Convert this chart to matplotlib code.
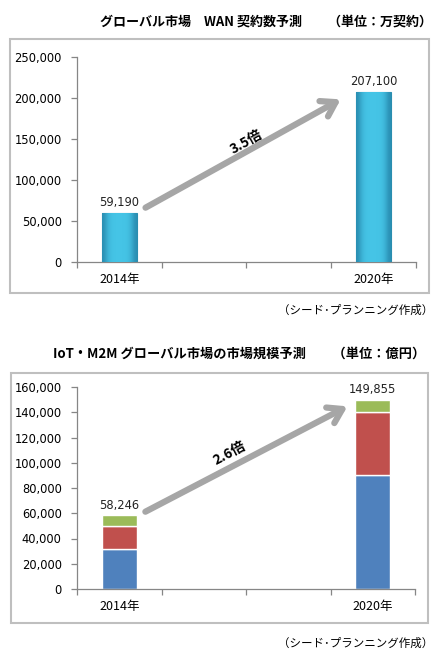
import matplotlib
matplotlib.use("Agg")
import matplotlib.pyplot as plt
import numpy as np
from matplotlib.patches import Rectangle
from matplotlib.colors import LinearSegmentedColormap

plt.rcParams['font.family'] = ['DejaVu Sans', 'Noto Sans CJK JP']

# ---- data ----
categories = ["2014年", "", "", "2020年"]
wan_values = [59190, None, None, 207100]
wan_labels = ["59,190", "207,100"]
wan_ticks = [0, 50000, 100000, 150000, 200000, 250000]

iot_blue = [32000, 90000]
iot_red = [18000, 50000]
iot_green = [8246, 9855]
iot_totals = ["58,246", "149,855"]
iot_ticks = [0, 20000, 40000, 60000, 80000, 100000, 120000, 140000, 160000]

title1 = "グローバル市場　WAN 契約数予測　　（単位：万契約）"
title2 = "IoT・M2M グローバル市場の市場規模予測　　（単位：億円）"
source = "（シード･プランニング作成）"
mult1 = "3.5倍"
mult2 = "2.6倍"

W, H = 437, 657
fig = plt.figure(figsize=(W / 100, H / 100), dpi=100)

def fx(px):
    return px / W

def fy(py):
    return 1 - py / H

jp = ['Noto Sans CJK JP', 'DejaVu Sans']

# frames
for (x0, y0, x1, y1) in [(10, 39, 429, 293), (11, 373, 428, 623)]:
    fig.patches.append(Rectangle((fx(x0), fy(y1)), fx(x1 - x0), (y1 - y0) / H,
                                 transform=fig.transFigure, fill=False,
                                 edgecolor='#BFBFBF', lw=1.5))

def style_axes(ax, ticks):
    for s in ['top', 'right']:
        ax.spines[s].set_visible(False)
    for s in ['left', 'bottom']:
        ax.spines[s].set_color('#868686')
        ax.spines[s].set_linewidth(0.9)
    ax.set_xlim(-0.5, 3.5)
    ax.set_xticks(range(4))
    ax.set_xticklabels(categories, fontfamily=jp, fontsize=9)
    ax.tick_params(axis='x', which='major', length=0, pad=8)
    ax.set_xticks([-0.5, 0.5, 1.5, 2.5, 3.5], minor=True)
    ax.tick_params(axis='x', which='minor', length=4, color='#868686', width=0.9)
    ax.set_yticks(ticks)
    ax.set_yticklabels([f"{t:,}" for t in ticks], fontsize=8.3)
    ax.tick_params(axis='y', length=4, color='#868686', width=0.9, pad=7)
    ax.set_ylim(0, ticks[-1])

# ---- top chart ----
ax1 = fig.add_axes([fx(77), fy(262), fx(416 - 77), (262 - 57) / H])
style_axes(ax1, wan_ticks)
xs = [i for i, v in enumerate(wan_values) if v is not None]
vals = [v for v in wan_values if v is not None]
bars = ax1.bar(xs, vals, width=0.41, color='#3DBCE0', edgecolor='#2A8DAF', lw=0.8, zorder=2)
grad = np.array([[0.0, 0.7, 0.95, 1.0, 1.0, 1.0, 0.95, 0.7, 0.0]])
cmap = LinearSegmentedColormap.from_list('c', ['#2A8FB3', '#45C4E6'])
for b in bars:
    x0, w, h = b.get_x(), b.get_width(), b.get_height()
    im = ax1.imshow(grad, extent=[x0, x0 + w, 0, h], aspect='auto', cmap=cmap,
                    zorder=3, interpolation='bicubic')
    im.set_clip_path(b)
for x, v, lab in zip(xs, vals, wan_labels):
    ax1.text(x, v + 5000, lab, ha='center', va='bottom', fontsize=8.3, color='#222222')
ax1.annotate('', xy=(2.64, 200000), xytext=(0.28, 64600),
             arrowprops=dict(arrowstyle='->,head_length=0.7,head_width=0.45', lw=4.5,
                             color='#A6A6A6', mutation_scale=14), zorder=4)
ax1.text(1.5, 146000, mult1, rotation=29, ha='center', va='center', fontsize=10,
         fontweight='bold', fontfamily=jp, rotation_mode='anchor')

fig.text(fx(432), fy(22), title1, ha='right', va='center', fontsize=9.4,
         fontweight='bold', fontfamily=jp)
fig.text(fx(433), fy(310), source, ha='right', va='center', fontsize=8.3, fontfamily=jp)

# ---- bottom chart ----
ax2 = fig.add_axes([fx(77), fy(589), fx(415 - 77), (589 - 387) / H])
style_axes(ax2, iot_ticks)
bx = [0, 3]
ax2.bar(bx, iot_blue, width=0.41, color='#4F81BD', edgecolor='white', lw=1, zorder=2)
ax2.bar(bx, iot_red, bottom=iot_blue, width=0.41, color='#C0504D', edgecolor='white', lw=1, zorder=2)
bot2 = [a + b for a, b in zip(iot_blue, iot_red)]
ax2.bar(bx, iot_green, bottom=bot2, width=0.41, color='#9BBB59', edgecolor='white', lw=1, zorder=2)
tot = [a + b for a, b in zip(bot2, iot_green)]
for x, v, lab in zip(bx, tot, iot_totals):
    ax2.text(x, v + 3000, lab, ha='center', va='bottom', fontsize=8.3, color='#222222')
ax2.annotate('', xy=(2.73, 145700), xytext=(0.28, 60200),
             arrowprops=dict(arrowstyle='->,head_length=0.7,head_width=0.45', lw=4.5,
                             color='#A6A6A6', mutation_scale=14), zorder=4)
ax2.text(1.31, 107700, mult2, rotation=28, ha='center', va='center', fontsize=10,
         fontweight='bold', fontfamily=jp, rotation_mode='anchor')

fig.text(fx(425), fy(354), title2, ha='right', va='center', fontsize=9.5,
         fontweight='bold', fontfamily=jp)
fig.text(fx(433), fy(643), source, ha='right', va='center', fontsize=8.3, fontfamily=jp)

fig.savefig('out.png', dpi=100, facecolor='white')
